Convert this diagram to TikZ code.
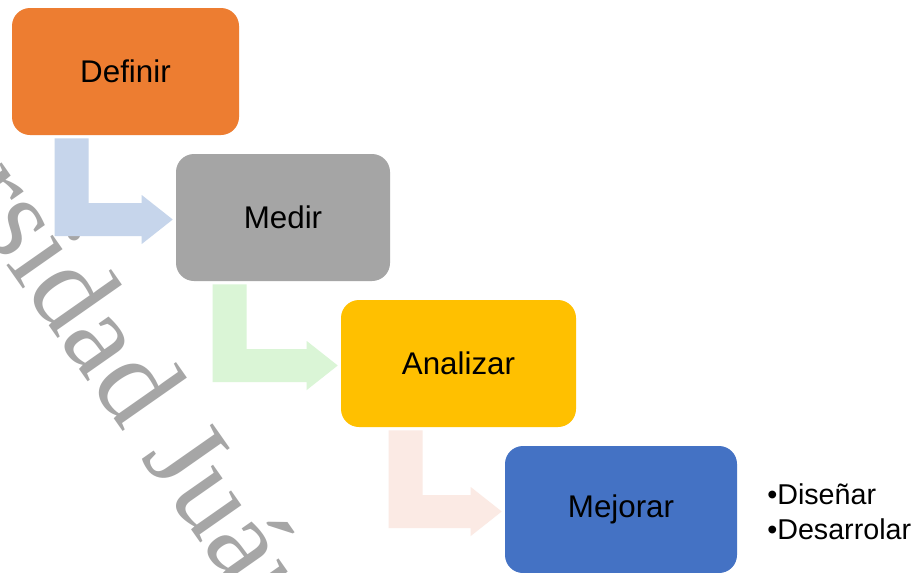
\documentclass[tikz,border=0pt]{standalone}
\usepackage{fontspec}
\setmainfont{Liberation Sans}
\newfontfamily\markFont{Liberation Serif}
\usetikzlibrary{calc}

\definecolor{defOrange}{HTML}{ED7D31}
\definecolor{medGray}{HTML}{A5A5A5}
\definecolor{anaGold}{HTML}{FFC000}
\definecolor{mejBlue}{HTML}{4472C4}
\definecolor{arrowBlue}{HTML}{C6D5EB}
\definecolor{arrowGreen}{HTML}{DAF5D6}
\definecolor{arrowPink}{HTML}{FBEAE4}
\definecolor{markGray}{HTML}{A6A6A6}

\tikzset{
	myBox/.style={%
		rectangle,
		rounded corners=13.5pt,
		inner sep=0pt,
		minimum height=95.25pt,
		text=black,
		font=\fontsize{23.5}{28}\selectfont
	},
	myList/.style={%
		anchor=base west,
		align=left,
		inner sep=0pt,
		font=\fontsize{21.5}{26.25}\selectfont
	},
	myMark/.style={%
		text=markGray,
		anchor=base west,
		inner sep=0pt,
		rotate=-55,
		font=\markFont\fontsize{90}{100}\selectfont
	}
}

\newcommand{\bentArrow}[4]{%
	\fill[#1] ($(#2.south west)+(#4,3)$) coordinate (tail)
		-- ++(34,0)
		|- ($(#3.west)+(-34,-14.5)$)
		-- ++(0,-8)
		-- ($(#3.west)+(-3,2)$)
		-- ($(#3.west)+(-34,26.5)$)
		-- ++(0,-8)
		-| (tail) -- cycle;
}

\begin{document}
\begin{tikzpicture}[x=0.75pt, y=-0.75pt]
	\useasboundingbox (0,0) rectangle (920,572);
	\clip (0,0) rectangle (920,572);
	\fill[white] (0,0) rectangle (920,572);

	\node[myMark] (mark) at (-213,-48) {Universidad Juárez};

	\node[myBox, fill=defOrange, minimum width=170.25pt] (definir) at (125.5,71.5) {Definir};
	\node[myBox, fill=medGray, minimum width=160.5pt] (medir) at (283,217.5) {Medir};
	\node[myBox, fill=anaGold, minimum width=176.25pt] (analizar) at (458.5,363.5) {Analizar};
	\node[myBox, fill=mejBlue, minimum width=174pt] (mejorar) at (621,509.5) {Mejorar};

	\bentArrow{arrowBlue}{definir}{medir}{43}
	\bentArrow{arrowGreen}{medir}{analizar}{37}
	\bentArrow{arrowPink}{analizar}{mejorar}{48}

	\node[myList] (pasos) at (767,539) {•Diseñar\\•Desarrolar};
\end{tikzpicture}
\end{document}
